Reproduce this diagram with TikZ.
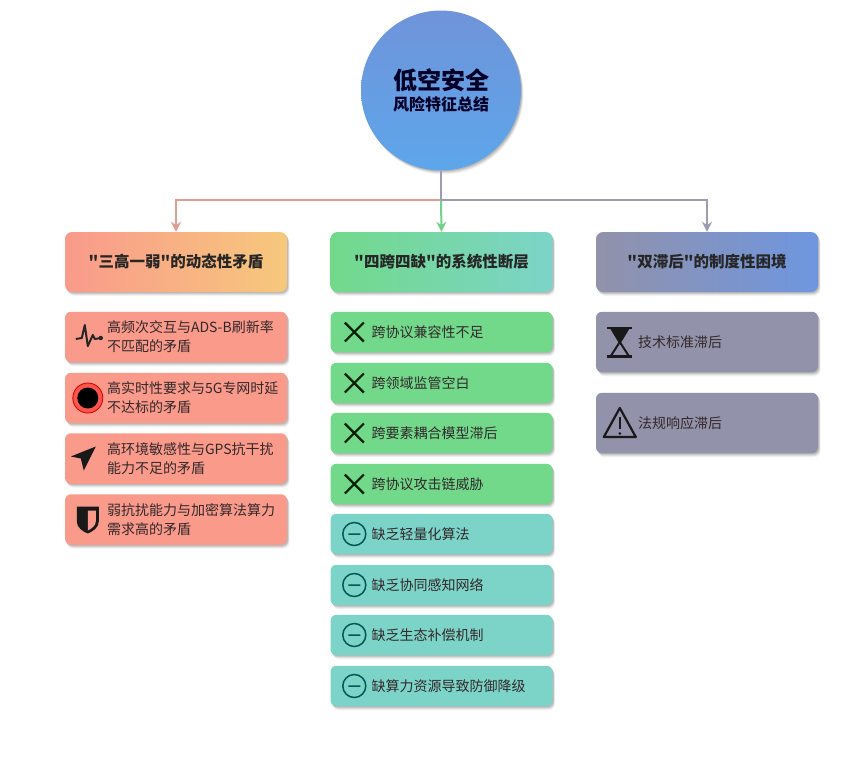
\documentclass[tikz,border=0pt]{standalone}
\usepackage{fontspec}
\setmainfont{Noto Sans CJK SC}[Ligatures=TeXOff]
\usetikzlibrary{positioning,shadows,arrows.meta}
\definecolor{rosea}{HTML}{F99A8B}
\definecolor{roseb}{HTML}{F7C87C}
\definecolor{greena}{HTML}{72D98B}
\definecolor{greenb}{HTML}{7CD4C8}
\definecolor{graya}{HTML}{9292AA}
\definecolor{grayb}{HTML}{6E96E0}
\definecolor{skya}{HTML}{6F94DA}
\definecolor{skyb}{HTML}{5DA6EA}
\definecolor{inka}{HTML}{33282A}
\tikzset{
  softshadow/.style={
    drop shadow={shadow xshift=1pt,shadow yshift=-1pt,opacity=.10,fill=black},
    drop shadow={shadow xshift=1.5pt,shadow yshift=-2pt,opacity=.09,fill=black},
    drop shadow={shadow xshift=2pt,shadow yshift=-3pt,opacity=.07,fill=black},
    drop shadow={shadow xshift=2.5pt,shadow yshift=-4pt,opacity=.04,fill=black}},
  head/.style={rectangle,rounded corners=7pt,minimum width=222pt,minimum height=60pt,
    inner sep=0pt,softshadow,font=\bfseries\fontsize{15.5}{20}\selectfont,text=black!85},
  item/.style={rectangle,rounded corners=6pt,minimum width=222pt,inner sep=0pt,softshadow},
  itemtext/.style={anchor=west,inner sep=0pt,align=left,text=inka,
    font=\fontsize{14}{19}\selectfont},
  link/.style={line width=2pt,-{Stealth[length=10pt,width=10pt]}},
  iconpulse/.pic={
    \draw[line width=2pt,black!85,line join=round] (-12,2)--(-6,1)--(-3,-12)--(0,9)--(5,-2)--(7,2)--(13,1);
    \fill[black!85] (13,1) circle (2.2);},
  icontarget/.pic={
    \draw[fill=red!45!rosea,draw=red!80!black,line width=.8pt] (0,0) circle (15);
    \fill[black] (0,0) circle (10.5);},
  iconnav/.pic={
    \fill[black!90] (-17,-2)--(8,-12)--(-4,12)--(-7,0)--cycle;},
  iconshield/.pic={
    \fill[black!90] (-11,-13)--(11,-13)--(11,2) .. controls (11,8) and (5,12) .. (0,14)
      .. controls (-5,12) and (-11,8) .. (-11,2)--cycle;
    \fill[rosea] (0,-9)--(8,-9)--(8,2) .. controls (8,6) and (4,9) .. (0,11)--cycle;},
  iconcross/.pic={
    \draw[line width=2.2pt,black!70!green!40!black] (-9.5,-9.5)--(9.5,9.5) (-9.5,9.5)--(9.5,-9.5);},
  iconminus/.pic={
    \draw[line width=1.5pt,teal!70!black] (0,0) circle (11.5) (-6,0)--(6,0);},
  iconglass/.pic={
    \draw[line width=2.6pt,black!90] (-12.5,-14)--(12.5,-14) (-12.5,14.5)--(12.5,14.5);
    \fill[black!90] (-10,-14)--(10,-14)--(1,1)--(-1,1)--cycle;
    \draw[line width=2pt,black!90] (0,0)--(-9,14) (0,0)--(9,14);},
  iconwarn/.pic={
    \draw[line width=2.2pt,line join=round,black!90] (0,-15)--(16,14)--(-16,14)--cycle;
    \draw[line width=2.6pt,black!90] (0,-6)--(0,6);
    \fill[black!90] (0,10.5) circle (1.5);},
}
\begin{document}
\begin{tikzpicture}[x=1pt,y=-1pt]
  \useasboundingbox[fill=white] (0,0) rectangle (846,758);
  \node[circle,minimum size=160pt,inner sep=0pt,top color=skya,bottom color=skyb,softshadow] (C) at (441,90.5) {};
  \node[font=\bfseries\fontsize{24}{28}\selectfont,text=black!85!blue,inner sep=0pt] (Ct) at (441,80) {低空安全};
  \node[font=\bfseries\fontsize{16}{20}\selectfont,text=black!85!blue,inner sep=0pt] (Cs) at (441,104.5) {风险特征总结};
  \foreach \x/\y/\a/\b/\t in{H1/176/rosea/roseb/"三高一弱"的动态性矛盾, H2/441.5/greena/greenb/"四跨四缺"的系统性断层, H3/707/graya/grayb/"双滞后"的制度性困境}{
    \node[head,left color=\a,right color=\b] (\x) at (\y,262) {\t};
  }
  \coordinate (J) at (441,200);
  \draw[link,draw=rosea!75!gray!90!white] (J) -| (H1.north);
  \draw[link,draw=greena!90!gray] (J) -- (H2.north);
  \draw[link,draw=graya!90!white] (J) -| (H3.north);
  \draw[line width=2pt,draw=graya!90!white] (C.south) -- (J);
  % left column
  \foreach \x/\y/\p/\t in{1/337/iconpulse/{高频次交互与ADS-B刷新率\\不匹配的矛盾}, 2/398/icontarget/{高实时性要求与5G专网时延\\不达标的矛盾}, 3/458.5/iconnav/{高环境敏感性与GPS抗干扰\\能力不足的矛盾}, 4/519.5/iconshield/{弱抗扰能力与加密算法算力\\需求高的矛盾}}{
    \node[item,minimum height=50.5pt,fill=rosea] (L\x) at (176,\y) {};
    \node[itemtext] (L\x t) at ([xshift=42pt]L\x.west) {\t};
    \path (L\x.west) ++(23,0) pic {\p};
  }
  % middle column
  \foreach \x/\y/\c/\p/\t in{1/332/greena/iconcross/跨协议兼容性不足, 2/383/greena/iconcross/跨领域监管空白, 3/433/greena/iconcross/跨要素耦合模型滞后, 4/484/greena/iconcross/跨协议攻击链威胁, 5/534/greenb/iconminus/缺乏轻量化算法, 6/585/greenb/iconminus/缺乏协同感知网络, 7/635/greenb/iconminus/缺乏生态补偿机制, 8/686/greenb/iconminus/缺算力资源导致防御降级}{
    \node[item,minimum height=40.5pt,fill=\c] (M\x) at (441.5,\y) {};
    \node[itemtext] (M\x t) at ([xshift=41pt]M\x.west) {\t};
    \path (M\x.west) ++(24,0) pic {\p};
  }
  % right column
  \foreach \x/\y/\p/\t in{1/342/iconglass/技术标准滞后, 2/423/iconwarn/法规响应滞后}{
    \node[item,minimum height=60.5pt,fill=graya] (R\x) at (707,\y) {};
    \node[itemtext] (R\x t) at ([xshift=42pt]R\x.west) {\t};
    \path (R\x.west) ++(24,0) pic {\p};
  }
\end{tikzpicture}
\end{document}
